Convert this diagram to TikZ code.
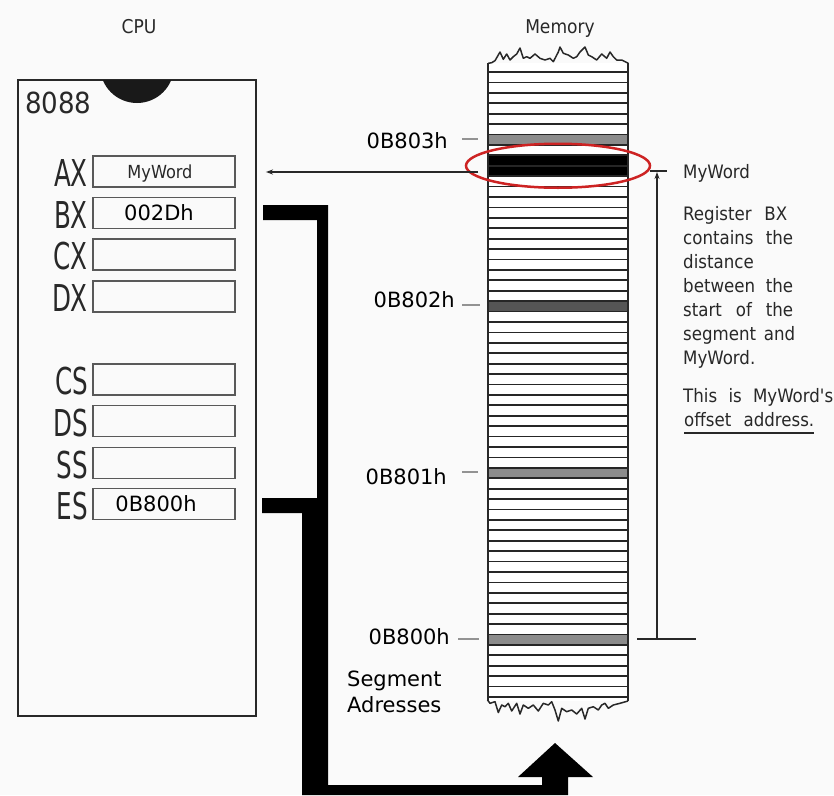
\documentclass[tikz,border=0pt]{standalone}
\usepackage{fontspec}
\setmainfont{DejaVu Sans}
\newfontfamily\cadfont{DejaVu Sans Condensed}
\newfontfamily\cadnarrow[FakeStretch=0.74]{DejaVu Sans Condensed}
\usetikzlibrary{arrows.meta}
\definecolor{bgc}{RGB}{250,250,250}
\definecolor{inkc}{RGB}{40,40,40}
\definecolor{ringc}{RGB}{205,35,35}
\definecolor{bandA}{RGB}{140,140,140}
\definecolor{bandB}{RGB}{85,85,85}
\begin{document}
\begin{tikzpicture}[x=1pt,y=-1pt,
  regbox/.style={draw=black!65, line width=1.9pt, minimum width=142pt, minimum height=31pt, inner sep=0pt},
  regname/.style={anchor=base east, inner sep=0pt, text=inkc, font=\cadnarrow\fontsize{37}{37}\selectfont},
  regval/.style={anchor=base, inner sep=0pt, font=\fontsize{21}{21}\selectfont},
  cadtext/.style={inner sep=0pt, text=inkc, font=\cadfont\fontsize{18.5}{18.5}\selectfont},
  addr/.style={anchor=east, inner sep=0pt, font=\fontsize{21}{21}\selectfont},
  tick/.style={draw=gray!85, line width=1.6pt},
  memline/.style={draw=black!85, line width=1.8pt},
  band/.style={minimum width=140pt, minimum height=10.42pt, inner sep=0pt, draw=none},
  bus/.style={fill=black},
  ptr/.style={draw=inkc, line width=1.3pt, -{Stealth[length=7pt,width=5pt]}},
  dimline/.style={draw=inkc, line width=1.3pt}
]
\fill[bgc] (0,0) rectangle (834,795);
\useasboundingbox (0,0) rectangle (834,795);

% titles
\node[cadtext, anchor=base, font=\cadfont\fontsize{19}{19}\selectfont] (cpu) at (139,33) {CPU};
\node[cadtext, anchor=base, font=\cadfont\fontsize{19}{19}\selectfont] (memt) at (560,33) {Memory};

% chip
\draw[inkc, line width=2pt] (18,80) rectangle (256,716);
\begin{scope}
  \clip (18,80) rectangle (256,130);
  \fill[black!90] (137,66) circle[radius=37];
\end{scope}
\node[cadtext, anchor=base west, font=\cadfont\fontsize{29}{29}\selectfont] (chipname) at (25,113) {8088};

% registers
\node[regbox] (ax) at (164,171.5) {};
\node[regbox] (bx) at (164,213) {};
\node[regbox] (cx) at (164,254.5) {};
\node[regbox] (dx) at (164,296.5) {};
\node[regbox] (cs) at (164,379.5) {};
\node[regbox] (ds) at (164,421) {};
\node[regbox] (ss) at (164,463) {};
\node[regbox] (es) at (164,504) {};
\foreach \r/\t in {ax/AX,bx/BX,cx/CX,dx/DX,cs/CS,ds/DS,ss/SS,es/ES}{
  \node[regname] (\r n) at ([xshift=-4pt,yshift=-15pt]\r.west) {\t};
}
\node[regval, font=\cadfont\fontsize{18}{18}\selectfont, text=inkc] (axv) at ([xshift=-4pt,yshift=-6.5pt]ax.center) {MyWord};
\node[regval] (bxv) at ([xshift=-5pt,yshift=-7.5pt]bx.center) {002Dh};
\node[regval] (esv) at ([xshift=-8pt,yshift=-7.5pt]es.center) {0B800h};

% memory column
\fill[white] (488,63) rectangle (628,701);
\node[band, fill=bandA] (c803) at (558,139.7) {};
\node[band, fill=bandB] (c802) at (558,306.4) {};
\node[band, fill=bandA] (c801) at (558,473.0) {};
\node[band, fill=bandA] (c800) at (558,639.7) {};
\node[band, fill=black, minimum height=22pt] (mw) at (558,165.75) {};
\foreach \k in {0,...,60}{
  \pgfmathsetmacro\yy{72+\k*10.41667}
  \draw[memline] (489,\yy) -- (627,\yy);
}
\draw[inkc, line width=1.8pt] (488,63) -- (488,701);
\draw[inkc, line width=1.8pt] (628,63) -- (628,701);
\draw[inkc, line width=1.5pt, line join=round] (488.3,63.3) -- (491.7,62.7) -- (495,60.7) -- (500,52) -- (503.3,59.3) -- (506.7,54) -- (510,60) -- (513.3,56.7) -- (516.7,54) -- (520,48) -- (523.3,58.3) -- (526.7,56.7) -- (530,58.3) -- (535,54) -- (540,58.3) -- (545,60) -- (550,58.3) -- (553.3,61.7) -- (558.3,52) -- (560,47) -- (563.3,53.3) -- (568.3,55) -- (573.3,58.3) -- (576.7,56.7) -- (580,52) -- (585,47) -- (588.3,55) -- (591.7,56.7) -- (596.7,60) -- (601.7,54) -- (606.7,58.3) -- (610,52) -- (613.3,56.7) -- (616.7,60) -- (621.7,60) -- (628.3,63.3);
\draw[inkc, line width=1.5pt, line join=round] (487.5,700) -- (490,703.3) -- (495,701.7) -- (498.3,712.5) -- (501.7,705) -- (505,706.7) -- (508.3,703.3) -- (511.7,711) -- (516.7,703.3) -- (520,714) -- (523.3,705) -- (528.3,708.3) -- (533.3,705) -- (538.3,711) -- (543.3,703.3) -- (548.3,705) -- (551.7,701.7) -- (555,710) -- (558.3,721) -- (561.7,708.3) -- (566.7,711.7) -- (571.7,710) -- (576.7,714) -- (581.7,708.3) -- (585,719) -- (588.3,708.3) -- (593.3,706.7) -- (598.3,710) -- (601.7,705) -- (605,703.3) -- (608.3,708.3) -- (613.3,705) -- (620,703.3) -- (628,701);

% red ring
\draw[ringc, line width=2.5pt] (mw.center) ellipse[x radius=92, y radius=22];

% address labels
\node[addr] (a803) at (448,141) {0B803h};
\node[addr] (a802) at (455,300) {0B802h};
\node[addr] (a801) at (447,477) {0B801h};
\node[addr] (a800) at (450,637) {0B800h};
\draw[tick] (462,139) -- (478,139);
\draw[tick] (462,305) -- (480,305);
\draw[tick] (462,472) -- (478,472);
\draw[tick] (458,639) -- (479,639);
\node[anchor=west, inner sep=0pt, align=left, font=\fontsize{21}{26}\selectfont] (seg) at (347,692) {Segment\\Adresses};

% pointer from memory word to AX
\coordinate (ptrS) at (478,172);
\draw[ptr] (ptrS) -- ([xshift=30pt]ax.east |- ptrS);

% bus
\fill[bus] (263,205) -- (328,205) -- (328,785) -- (542,785) -- (542,777) -- (518,777) -- (555,743) -- (593,777) -- (568,777) -- (568,795) -- (302,795) -- (302,513) -- (262,513) -- (262,498) -- (317,498) -- (317,220) -- (263,220) -- cycle;

% dimension line
\coordinate (dTop) at (657,172);
\coordinate (dBot) at (657,639);
\draw[dimline] (650,171) -- (667,171);
\draw[dimline] (637,639) -- (696,639);
\draw[dimline, -{Stealth[length=7pt,width=5pt]}] (dBot) -- (dTop);

% explanation text
\node[cadtext, anchor=base west] (rmw) at (683,178.7) {MyWord};
\node[cadtext, anchor=base west] (r1) at (683,220.7) {\makebox[104pt][s]{Register BX}};
\node[cadtext, anchor=base west] (r2) at (683,244.7) {\makebox[110pt][s]{contains the}};
\node[cadtext, anchor=base west] (r3) at (683,268.7) {distance};
\node[cadtext, anchor=base west] (r4) at (683,292.7) {\makebox[110pt][s]{between the}};
\node[cadtext, anchor=base west] (r5) at (683,316.7) {\makebox[110pt][s]{start of the}};
\node[cadtext, anchor=base west] (r6) at (683,340.7) {\makebox[112pt][s]{segment and}};
\node[cadtext, anchor=base west] (r7) at (683,364.7) {MyWord.};
\node[cadtext, anchor=base west] (r8) at (683,402.7) {\makebox[150pt][s]{This is MyWord's}};
\node[cadtext, anchor=base west] (r9) at (684,426.7) {\makebox[130pt][s]{offset address.}};
\draw[dimline, line width=1.8pt] ([yshift=-6.3pt]r9.base west) -- ([yshift=-6.3pt]r9.base east);
\end{tikzpicture}
\end{document}
